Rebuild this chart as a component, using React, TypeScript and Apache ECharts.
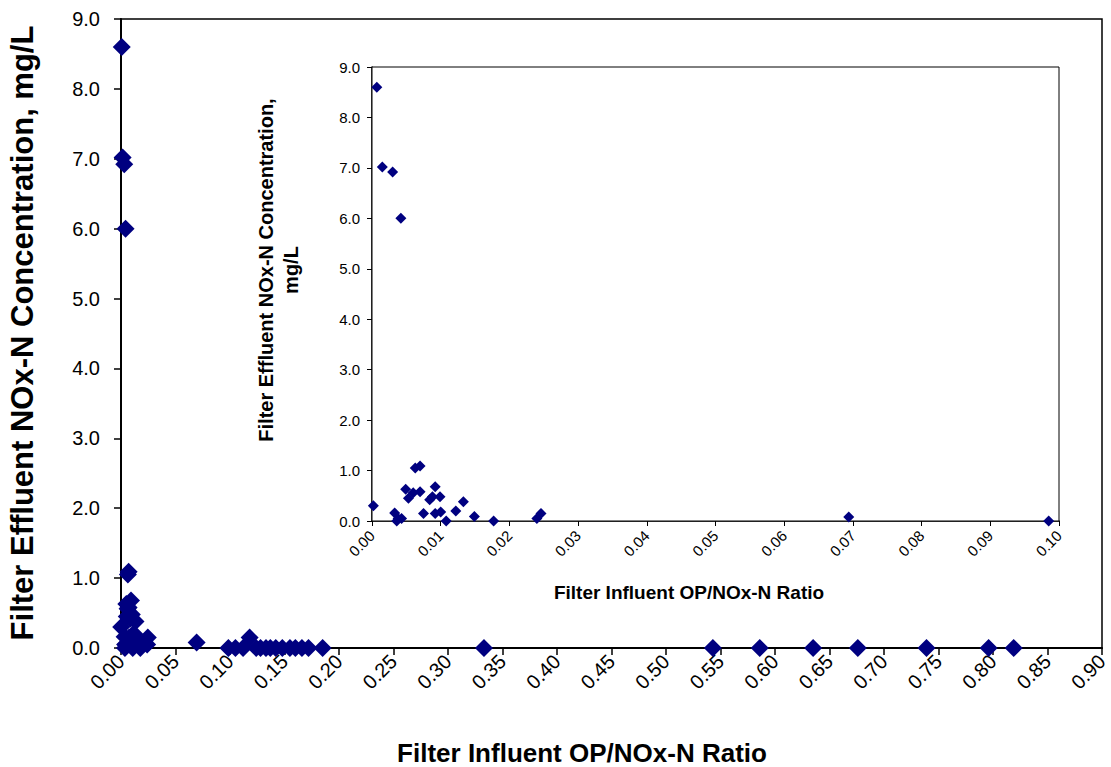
import React, { useEffect, useRef } from "react";
import * as echarts from "echarts";

// Filter influent OP/NOx-N ratio (x) and filter effluent NOx-N (mg/L, y)
const ratio: number[] = [
  0.0002, 0.0007, 0.0015, 0.003, 0.0042, 0.0033, 0.0038, 0.0036, 0.0043, 0.0049,
  0.0053, 0.006, 0.0063, 0.007, 0.007, 0.0075, 0.0084, 0.0092, 0.0088, 0.0099,
  0.0092, 0.01, 0.0108, 0.0122, 0.0133, 0.0149, 0.0177, 0.024, 0.0246, 0.0694,
  0.0985, 0.105, 0.112, 0.118, 0.124, 0.128, 0.133, 0.137, 0.142, 0.148,
  0.155, 0.16, 0.166, 0.172, 0.185, 0.333, 0.543, 0.586, 0.635, 0.676,
  0.739, 0.796, 0.819,
];
const nox: number[] = [
  0.3, 8.6, 7.02, 6.92, 6.0, 0.16, 0.05, 0.0, 0.05, 0.63,
  0.45, 0.56, 1.05, 1.09, 0.58, 0.15, 0.42, 0.68, 0.48, 0.48,
  0.15, 0.18, 0.0, 0.2, 0.38, 0.09, 0.0, 0.05, 0.15, 0.08,
  0.0, 0.0, 0.0, 0.15, 0.0, 0.0, 0.0, 0.0, 0.0, 0.0,
  0.0, 0.0, 0.0, 0.0, 0.0, 0.0, 0.0, 0.0, 0.0, 0.0,
  0.0, 0.0, 0.0,
];

const xTitle = "Filter Influent OP/NOx-N Ratio";
const yTitle = "Filter Effluent NOx-N Concentration, mg/L";
const yTitleInset = "Filter Effluent NOx-N Concentration,\nmg/L";

const FONT = "'Liberation Sans', Arial, sans-serif";
const NAVY = "#000080";
const W = 1124; // drawing is a little wider than the window; the right edge is cropped

export default function App() {
  const ref = useRef<HTMLDivElement>(null);
  useEffect(() => {
    if (!ref.current) return;
    const chart = echarts.init(ref.current, undefined, { renderer: "svg" });
    const all = ratio.map((r, i) => [r, nox[i]]);
    const inset = all.filter((p) => p[0] <= 0.1);
    chart.setOption({
      animation: false,
      backgroundColor: "#fff",
      textStyle: { fontFamily: FONT, color: "#000" },
      grid: [
        {
          left: 121, top: 19, right: W - 1102, bottom: 119,
          show: true, borderColor: "#000", borderWidth: 1.5, backgroundColor: "transparent",
        },
        {
          left: 372, top: 67, right: W - 1059, bottom: 246,
          show: true, borderColor: "#000", borderWidth: 1, backgroundColor: "#fff", z: 5,
        },
      ],
      xAxis: [
        {
          gridIndex: 0, type: "value", min: 0, max: 0.9, interval: 0.05,
          axisLine: { show: true, onZero: false, lineStyle: { color: "#000", width: 2 } },
          axisTick: { show: true, length: 7, lineStyle: { color: "#000", width: 1.5 } },
          splitLine: { show: false },
          axisLabel: {
            rotate: 45, margin: 10, fontSize: 20, color: "#000", fontFamily: FONT,
            formatter: (v: number) => v.toFixed(2),
          },
        },
        {
          gridIndex: 1, type: "value", min: 0, max: 0.1, interval: 0.01,
          axisLine: { show: true, onZero: false, lineStyle: { color: "#000", width: 1.5 } },
          axisTick: { show: true, length: 5, lineStyle: { color: "#000", width: 1 } },
          splitLine: { show: false },
          axisLabel: {
            rotate: 45, margin: 12, fontSize: 15, color: "#000", fontFamily: FONT,
            formatter: (v: number) => v.toFixed(2),
          },
        },
      ],
      yAxis: [
        {
          gridIndex: 0, type: "value", min: 0, max: 9, interval: 1,
          axisLine: { show: true, onZero: false, lineStyle: { color: "#000", width: 2 } },
          axisTick: { show: true, length: 7, lineStyle: { color: "#000", width: 1.5 } },
          splitLine: { show: false },
          axisLabel: {
            margin: 21, fontSize: 20, color: "#000", fontFamily: FONT,
            formatter: (v: number) => v.toFixed(1),
          },
        },
        {
          gridIndex: 1, type: "value", min: 0, max: 9, interval: 1,
          axisLine: { show: true, onZero: false, lineStyle: { color: "#000", width: 1.5 } },
          axisTick: { show: true, length: 5, lineStyle: { color: "#000", width: 1 } },
          splitLine: { show: false },
          axisLabel: {
            margin: 12, fontSize: 15, color: "#000", fontFamily: FONT,
            formatter: (v: number) => v.toFixed(1),
          },
        },
      ],
      series: [
        {
          type: "scatter", xAxisIndex: 0, yAxisIndex: 0, data: all,
          symbol: "diamond", symbolSize: 18, itemStyle: { color: NAVY, opacity: 1 }, z: 2,
        },
        {
          type: "scatter", xAxisIndex: 1, yAxisIndex: 1, data: inset,
          symbol: "diamond", symbolSize: 11, itemStyle: { color: NAVY, opacity: 1 }, z: 6,
        },
      ],
      graphic: [
        {
          type: "text", x: 22, y: 333, rotation: Math.PI / 2, z: 10,
          style: {
            text: yTitle, fontSize: 31, fontWeight: "bold", fontFamily: FONT, fill: "#000",
            align: "center", verticalAlign: "middle",
          },
        },
        {
          type: "text", x: 582, y: 753, z: 10,
          style: {
            text: xTitle, fontSize: 26, fontWeight: "bold", fontFamily: FONT, fill: "#000",
            align: "center", verticalAlign: "middle",
          },
        },
        {
          type: "text", x: 278, y: 270, rotation: Math.PI / 2, z: 10,
          style: {
            text: yTitleInset, fontSize: 20, lineHeight: 25, fontWeight: "bold", fontFamily: FONT,
            fill: "#000", align: "center", verticalAlign: "middle",
          },
        },
        {
          type: "text", x: 689, y: 592, z: 10,
          style: {
            text: xTitle, fontSize: 19, fontWeight: "bold", fontFamily: FONT, fill: "#000",
            align: "center", verticalAlign: "middle",
          },
        },
      ],
    });
    return () => chart.dispose();
  }, []);
  return (
    <div
      style={{
        position: "absolute", left: 0, top: 0, width: 1111, height: 767,
        overflow: "hidden", background: "#fff",
      }}
    >
      <div ref={ref} style={{ width: W, height: 767 }} />
    </div>
  );
}
